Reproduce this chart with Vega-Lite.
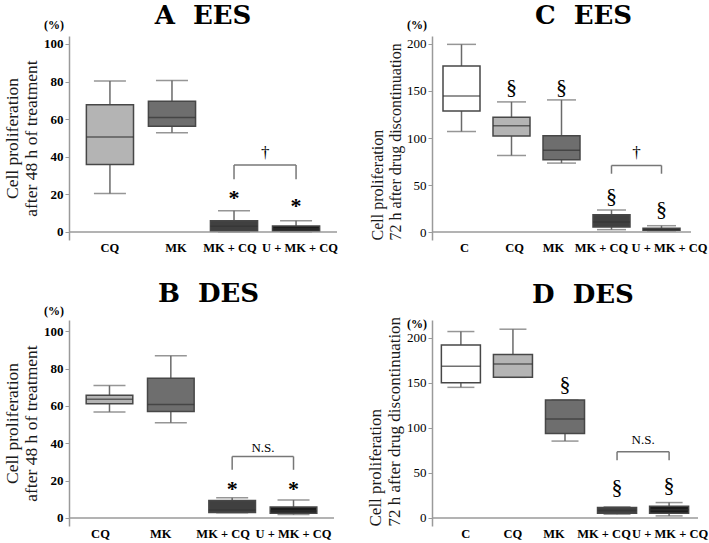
{
  "$schema": "https://vega.github.io/schema/vega-lite/v6.json",
  "padding": {"left": 3, "top": 3, "right": 2, "bottom": 0},
  "columns": 2,
  "spacing": {"row": 26, "column": 28},
  "align": "each",
  "config": {
    "view": {"stroke": null},
    "font": "Liberation Serif",
    "title": {"font": "DejaVu Serif", "fontSize": 26, "fontWeight": "bold", "color": "#000000"},
    "axis": {"domainColor": "#9a9a9a", "tickColor": "#9a9a9a", "labelColor": "#000000", "titleColor": "#1a1a1a", "labelFont": "Liberation Serif", "titleFont": "Liberation Serif", "grid": false},
    "axisX": {"domain": false, "ticks": false, "labelAngle": 0, "labelFont": "Liberation Serif", "labelFontWeight": "bold", "labelFontSize": 12.5, "labelPadding": 1, "labelOverlap": false},
    "axisY": {"tickSize": 4, "labelFont": "Liberation Serif", "titleFont": "Liberation Serif", "labelFontSize": 13, "labelPadding": 2, "titleFontWeight": "normal", "titlePadding": 3, "domainWidth": 1.5, "tickWidth": 1},
    "text": {"font": "Liberation Serif", "color": "#000000"}
  },
  "datasets": {
    "A": [
      {"group": "CQ", "min": 20.4, "q1": 35.8, "median": 50.5, "q3": 67.7, "max": 80.3},
      {"group": "MK", "min": 52.8, "q1": 56.2, "median": 60.8, "q3": 69.5, "max": 80.5},
      {"group": "MK + CQ", "min": 0, "q1": 0.4, "median": 3, "q3": 6, "max": 11.3},
      {"group": "U + MK + CQ", "min": 0, "q1": 0.3, "median": 1.6, "q3": 3.2, "max": 6}
    ],
    "B": [
      {"group": "CQ", "min": 56.8, "q1": 61.1, "median": 63.6, "q3": 65.7, "max": 70.9},
      {"group": "MK", "min": 51, "q1": 57, "median": 60.7, "q3": 74.8, "max": 86.9},
      {"group": "MK + CQ", "min": 2.8, "q1": 2.9, "median": 4.3, "q3": 9.4, "max": 10.8},
      {"group": "U + MK + CQ", "min": 1.8, "q1": 2.5, "median": 3.7, "q3": 5.9, "max": 9.6}
    ],
    "C": [
      {"group": "C", "min": 106.9, "q1": 128.8, "median": 144.8, "q3": 176.6, "max": 199.6},
      {"group": "CQ", "min": 81.4, "q1": 102, "median": 113, "q3": 122, "max": 138.4},
      {"group": "MK", "min": 73.3, "q1": 76.8, "median": 87, "q3": 102.3, "max": 140.5},
      {"group": "MK + CQ", "min": 2.5, "q1": 5.3, "median": 10.6, "q3": 18.4, "max": 23.4},
      {"group": "U + MK + CQ", "min": 1, "q1": 1.8, "median": 2.8, "q3": 3.9, "max": 6.7}
    ],
    "D": [
      {"group": "C", "min": 144.8, "q1": 150, "median": 168.1, "q3": 191.9, "max": 206.7},
      {"group": "CQ", "min": 155.9, "q1": 155.9, "median": 170.7, "q3": 181.1, "max": 209.3},
      {"group": "MK", "min": 85.2, "q1": 93.7, "median": 109.6, "q3": 130.7, "max": 130.7},
      {"group": "MK + CQ", "min": 4.1, "q1": 5.2, "median": 8.1, "q3": 11.5, "max": 12.2},
      {"group": "U + MK + CQ", "min": 2.2, "q1": 5.2, "median": 8.9, "q3": 13, "max": 17}
    ]
  },
  "concat": [
    {
      "width": 268, "height": 204,
      "title": {"text": "A\u00a0\u00a0EES", "dx": 0, "offset": -10},
      "layer": [
        {"data": {"name": "A"}, "mark": {"type": "rule", "color": "#6a6a6a", "strokeWidth": 1.5},
          "encoding": {
            "x": {"field": "group", "type": "nominal", "scale": {"domain": ["CQ", "MK", "MK + CQ", "U + MK + CQ"], "paddingInner": 0.24, "paddingOuter": 0.28},
              "axis": {"title": null, "labelOffset": {"condition": [{"test": "datum.value === 'MK'", "value": 4}, {"test": "datum.value === 'MK + CQ'", "value": -4}, {"test": "datum.value === 'U + MK + CQ'", "value": 4}], "value": 0}}},
            "y": {"field": "min", "type": "quantitative", "scale": {"domain": [-4.3, 104.2], "nice": false, "zero": false}, "axis": {"title": ["Cell proliferation", "after 48 h of treatment"], "values": [0, 20, 40, 60, 80, 100], "labelFontWeight": "bold", "titleFontSize": 17.5}},
            "y2": {"field": "max"}}},
        {"data": {"name": "A"}, "mark": {"type": "tick", "color": "#6a6a6a", "size": 32, "thickness": 1.5},
          "encoding": {"x": {"field": "group", "type": "nominal"}, "y": {"field": "max", "type": "quantitative"}}},
        {"data": {"name": "A"}, "mark": {"type": "tick", "color": "#6a6a6a", "size": 32, "thickness": 1.5},
          "encoding": {"x": {"field": "group", "type": "nominal"}, "y": {"field": "min", "type": "quantitative"}}},
        {"data": {"name": "A"}, "mark": {"type": "bar", "stroke": "#474747", "strokeWidth": 1.5},
          "encoding": {"x": {"field": "group", "type": "nominal"}, "y": {"field": "q1", "type": "quantitative"}, "y2": {"field": "q3"},
            "fill": {"field": "group", "type": "nominal", "scale": {"domain": ["C", "CQ", "MK", "MK + CQ", "U + MK + CQ"], "range": ["#ffffff", "#b4b4b4", "#6e6e6e", "#404040", "#1c1c1c"]}, "legend": null}}},
        {"data": {"name": "A"}, "mark": {"type": "tick", "color": "#333333", "size": 47, "thickness": 1.5},
          "encoding": {"x": {"field": "group", "type": "nominal"}, "y": {"field": "median", "type": "quantitative"}}},
        {"data": {"values": [{"v": 0}]}, "mark": {"type": "rule", "color": "#9a9a9a", "strokeWidth": 1.5},
          "encoding": {"y": {"field": "v", "type": "quantitative"}}},
        {"data": {"values": [{"group": "MK + CQ", "top": 35.6, "bot": 28}, {"group": "U + MK + CQ", "top": 35.6, "bot": 28}]}, "mark": {"type": "rule", "color": "#777777", "strokeWidth": 1.5},
          "encoding": {"x": {"field": "group", "type": "nominal"}, "y": {"field": "bot", "type": "quantitative"}, "y2": {"field": "top"}}},
        {"data": {"values": [{"from": "MK + CQ", "to": "U + MK + CQ", "y": 35.6}]}, "mark": {"type": "rule", "color": "#777777", "strokeWidth": 1.5},
          "encoding": {"x": {"field": "from", "type": "nominal", "bandPosition": 0.5}, "x2": {"field": "to", "bandPosition": 0.5}, "y": {"field": "y", "type": "quantitative"}}},
        {"data": {"values": [{"group": "MK + CQ", "y": 18, "label": "*"}, {"group": "U + MK + CQ", "y": 14, "label": "*"}]}, "mark": {"type": "text", "fontSize": 22, "fontWeight": "bold"},
          "encoding": {"x": {"field": "group", "type": "nominal"}, "y": {"field": "y", "type": "quantitative"}, "text": {"field": "label"}}},
        {"data": {"values": [{"group": "MK + CQ", "y": 42, "label": "†"}]}, "mark": {"type": "text", "fontSize": 17},
          "encoding": {"x": {"field": "group", "type": "nominal", "bandPosition": 1.16}, "y": {"field": "y", "type": "quantitative"}, "text": {"field": "label"}}},
        {"data": {"values": [{"label": "(%)", "y": 110}]}, "mark": {"type": "text", "fontSize": 12, "fontWeight": "bold", "dx": -15},
          "encoding": {"x": {"value": 0}, "y": {"field": "y", "type": "quantitative"}, "text": {"field": "label"}}}
      ]
    },
    {
      "width": 259, "height": 204,
      "title": {"text": "C\u00a0\u00a0EES", "dx": 22, "offset": -10},
      "layer": [
        {"data": {"name": "C"}, "mark": {"type": "rule", "color": "#6a6a6a", "strokeWidth": 1.5},
          "encoding": {
            "x": {"field": "group", "type": "nominal", "scale": {"domain": ["C", "CQ", "MK", "MK + CQ", "U + MK + CQ"], "paddingInner": 0.26, "paddingOuter": 0.22},
              "axis": {"title": null, "labelOffset": {"condition": [{"test": "datum.value === 'C'", "value": 3}, {"test": "datum.value === 'CQ'", "value": 3}, {"test": "datum.value === 'MK'", "value": -8}, {"test": "datum.value === 'MK + CQ'", "value": -10}, {"test": "datum.value === 'U + MK + CQ'", "value": 8}], "value": 0}}},
            "y": {"field": "min", "type": "quantitative", "scale": {"domain": [-8.5, 208.5], "nice": false, "zero": false}, "axis": {"title": ["Cell proliferation", "72 h after drug discontinuation"], "values": [0, 50, 100, 150, 200], "labelFontWeight": "normal", "titleFontSize": 16, "titleAnchor": "start"}},
            "y2": {"field": "max"}}},
        {"data": {"name": "C"}, "mark": {"type": "tick", "color": "#6a6a6a", "size": 29, "thickness": 1.5},
          "encoding": {"x": {"field": "group", "type": "nominal"}, "y": {"field": "max", "type": "quantitative"}}},
        {"data": {"name": "C"}, "mark": {"type": "tick", "color": "#6a6a6a", "size": 29, "thickness": 1.5},
          "encoding": {"x": {"field": "group", "type": "nominal"}, "y": {"field": "min", "type": "quantitative"}}},
        {"data": {"name": "C"}, "mark": {"type": "bar", "stroke": "#474747", "strokeWidth": 1.5},
          "encoding": {"x": {"field": "group", "type": "nominal"}, "y": {"field": "q1", "type": "quantitative"}, "y2": {"field": "q3"},
            "fill": {"field": "group", "type": "nominal", "scale": {"domain": ["C", "CQ", "MK", "MK + CQ", "U + MK + CQ"], "range": ["#ffffff", "#b4b4b4", "#6e6e6e", "#404040", "#1c1c1c"]}, "legend": null}}},
        {"data": {"name": "C"}, "mark": {"type": "tick", "color": "#333333", "size": 37, "thickness": 1.5},
          "encoding": {"x": {"field": "group", "type": "nominal"}, "y": {"field": "median", "type": "quantitative"}}},
        {"data": {"values": [{"v": 0}]}, "mark": {"type": "rule", "color": "#9a9a9a", "strokeWidth": 1.5},
          "encoding": {"y": {"field": "v", "type": "quantitative"}}},
        {"data": {"values": [{"group": "MK + CQ", "top": 70.8, "bot": 62}, {"group": "U + MK + CQ", "top": 70.8, "bot": 62}]}, "mark": {"type": "rule", "color": "#777777", "strokeWidth": 1.5},
          "encoding": {"x": {"field": "group", "type": "nominal"}, "y": {"field": "bot", "type": "quantitative"}, "y2": {"field": "top"}}},
        {"data": {"values": [{"from": "MK + CQ", "to": "U + MK + CQ", "y": 70.8}]}, "mark": {"type": "rule", "color": "#777777", "strokeWidth": 1.5},
          "encoding": {"x": {"field": "from", "type": "nominal", "bandPosition": 0.5}, "x2": {"field": "to", "bandPosition": 0.5}, "y": {"field": "y", "type": "quantitative"}}},
        {"data": {"values": [{"group": "CQ", "y": 154, "label": "§"}, {"group": "MK", "y": 154, "label": "§"}, {"group": "MK + CQ", "y": 38, "label": "§"}, {"group": "U + MK + CQ", "y": 24, "label": "§"}]}, "mark": {"type": "text", "fontSize": 22},
          "encoding": {"x": {"field": "group", "type": "nominal"}, "y": {"field": "y", "type": "quantitative"}, "text": {"field": "label"}}},
        {"data": {"values": [{"group": "MK + CQ", "y": 84, "label": "†"}]}, "mark": {"type": "text", "fontSize": 17},
          "encoding": {"x": {"field": "group", "type": "nominal", "bandPosition": 1.176}, "y": {"field": "y", "type": "quantitative"}, "text": {"field": "label"}}},
        {"data": {"values": [{"label": "(%)", "y": 220}]}, "mark": {"type": "text", "fontSize": 12, "fontWeight": "bold", "dx": -15},
          "encoding": {"x": {"value": 0}, "y": {"field": "y", "type": "quantitative"}, "text": {"field": "label"}}}
      ]
    },
    {
      "width": 265, "height": 206,
      "title": {"text": "B\u00a0\u00a0DES", "dx": 7, "offset": -2},
      "layer": [
        {"data": {"name": "B"}, "mark": {"type": "rule", "color": "#6a6a6a", "strokeWidth": 1.5},
          "encoding": {
            "x": {"field": "group", "type": "nominal", "scale": {"domain": ["CQ", "MK", "MK + CQ", "U + MK + CQ"], "paddingInner": 0.24, "paddingOuter": 0.28},
              "axis": {"title": null, "labelOffset": {"condition": [{"test": "datum.value === 'CQ'", "value": -9}, {"test": "datum.value === 'MK'", "value": -10}, {"test": "datum.value === 'MK + CQ'", "value": -9}], "value": 0}}},
            "y": {"field": "min", "type": "quantitative", "scale": {"domain": [-4.3, 106], "nice": false, "zero": false}, "axis": {"title": ["Cell proliferation", "after 48 h of treatment"], "values": [0, 20, 40, 60, 80, 100], "labelFontWeight": "bold", "titleFontSize": 17.5}},
            "y2": {"field": "max"}}},
        {"data": {"name": "B"}, "mark": {"type": "tick", "color": "#6a6a6a", "size": 32, "thickness": 1.5},
          "encoding": {"x": {"field": "group", "type": "nominal"}, "y": {"field": "max", "type": "quantitative"}}},
        {"data": {"name": "B"}, "mark": {"type": "tick", "color": "#6a6a6a", "size": 32, "thickness": 1.5},
          "encoding": {"x": {"field": "group", "type": "nominal"}, "y": {"field": "min", "type": "quantitative"}}},
        {"data": {"name": "B"}, "mark": {"type": "bar", "stroke": "#474747", "strokeWidth": 1.5},
          "encoding": {"x": {"field": "group", "type": "nominal"}, "y": {"field": "q1", "type": "quantitative"}, "y2": {"field": "q3"},
            "fill": {"field": "group", "type": "nominal", "scale": {"domain": ["C", "CQ", "MK", "MK + CQ", "U + MK + CQ"], "range": ["#ffffff", "#b4b4b4", "#6e6e6e", "#404040", "#1c1c1c"]}, "legend": null}}},
        {"data": {"name": "B"}, "mark": {"type": "tick", "color": "#333333", "size": 46.6, "thickness": 1.5},
          "encoding": {"x": {"field": "group", "type": "nominal"}, "y": {"field": "median", "type": "quantitative"}}},
        {"data": {"values": [{"v": 0}]}, "mark": {"type": "rule", "color": "#9a9a9a", "strokeWidth": 1.5},
          "encoding": {"y": {"field": "v", "type": "quantitative"}}},
        {"data": {"values": [{"group": "MK + CQ", "top": 32.9, "bot": 25.8}, {"group": "U + MK + CQ", "top": 32.9, "bot": 25.8}]}, "mark": {"type": "rule", "color": "#777777", "strokeWidth": 1.5},
          "encoding": {"x": {"field": "group", "type": "nominal"}, "y": {"field": "bot", "type": "quantitative"}, "y2": {"field": "top"}}},
        {"data": {"values": [{"from": "MK + CQ", "to": "U + MK + CQ", "y": 32.9}]}, "mark": {"type": "rule", "color": "#777777", "strokeWidth": 1.5},
          "encoding": {"x": {"field": "from", "type": "nominal", "bandPosition": 0.5}, "x2": {"field": "to", "bandPosition": 0.5}, "y": {"field": "y", "type": "quantitative"}}},
        {"data": {"values": [{"group": "MK + CQ", "y": 15.3, "label": "*"}, {"group": "U + MK + CQ", "y": 15.3, "label": "*"}]}, "mark": {"type": "text", "fontSize": 22, "fontWeight": "bold"},
          "encoding": {"x": {"field": "group", "type": "nominal"}, "y": {"field": "y", "type": "quantitative"}, "text": {"field": "label"}}},
        {"data": {"values": [{"group": "MK + CQ", "y": 37.5, "label": "N.S."}]}, "mark": {"type": "text", "fontSize": 13},
          "encoding": {"x": {"field": "group", "type": "nominal", "bandPosition": 1.16}, "y": {"field": "y", "type": "quantitative"}, "text": {"field": "label"}}},
        {"data": {"values": [{"label": "(%)", "y": 111}]}, "mark": {"type": "text", "fontSize": 12, "fontWeight": "bold", "dx": -15},
          "encoding": {"x": {"value": 0}, "y": {"field": "y", "type": "quantitative"}, "text": {"field": "label"}}}
      ]
    },
    {
      "width": 266, "height": 206,
      "title": {"text": "D\u00a0\u00a0DES", "dx": 18, "offset": 8},
      "layer": [
        {"data": {"name": "D"}, "mark": {"type": "rule", "color": "#6a6a6a", "strokeWidth": 1.5},
          "encoding": {
            "x": {"field": "group", "type": "nominal", "scale": {"domain": ["C", "CQ", "MK", "MK + CQ", "U + MK + CQ"], "paddingInner": 0.25, "paddingOuter": 0.18},
              "axis": {"title": null, "labelOffset": {"condition": [{"test": "datum.value === 'C'", "value": 5}, {"test": "datum.value === 'MK'", "value": -11}, {"test": "datum.value === 'MK + CQ'", "value": -13}, {"test": "datum.value === 'U + MK + CQ'", "value": 1}], "value": 0}}},
            "y": {"field": "min", "type": "quantitative", "scale": {"domain": [-9, 219.5], "nice": false, "zero": false}, "axis": {"title": ["Cell proliferation", "72 h after drug discontinuation"], "values": [0, 50, 100, 150, 200], "labelFontWeight": "normal", "titleFontSize": 17, "titleAnchor": "start"}},
            "y2": {"field": "max"}}},
        {"data": {"name": "D"}, "mark": {"type": "tick", "color": "#6a6a6a", "size": 27, "thickness": 1.5},
          "encoding": {"x": {"field": "group", "type": "nominal"}, "y": {"field": "max", "type": "quantitative"}}},
        {"data": {"name": "D"}, "mark": {"type": "tick", "color": "#6a6a6a", "size": 27, "thickness": 1.5},
          "encoding": {"x": {"field": "group", "type": "nominal"}, "y": {"field": "min", "type": "quantitative"}}},
        {"data": {"name": "D"}, "mark": {"type": "bar", "stroke": "#474747", "strokeWidth": 1.5},
          "encoding": {"x": {"field": "group", "type": "nominal"}, "y": {"field": "q1", "type": "quantitative"}, "y2": {"field": "q3"},
            "fill": {"field": "group", "type": "nominal", "scale": {"domain": ["C", "CQ", "MK", "MK + CQ", "U + MK + CQ"], "range": ["#ffffff", "#b4b4b4", "#6e6e6e", "#404040", "#1c1c1c"]}, "legend": null}}},
        {"data": {"name": "D"}, "mark": {"type": "tick", "color": "#333333", "size": 39, "thickness": 1.5},
          "encoding": {"x": {"field": "group", "type": "nominal"}, "y": {"field": "median", "type": "quantitative"}}},
        {"data": {"values": [{"v": 0}]}, "mark": {"type": "rule", "color": "#9a9a9a", "strokeWidth": 1.5},
          "encoding": {"y": {"field": "v", "type": "quantitative"}}},
        {"data": {"values": [{"group": "MK + CQ", "top": 73.3, "bot": 64}, {"group": "U + MK + CQ", "top": 73.3, "bot": 64}]}, "mark": {"type": "rule", "color": "#777777", "strokeWidth": 1.5},
          "encoding": {"x": {"field": "group", "type": "nominal"}, "y": {"field": "bot", "type": "quantitative"}, "y2": {"field": "top"}}},
        {"data": {"values": [{"from": "MK + CQ", "to": "U + MK + CQ", "y": 73.3}]}, "mark": {"type": "rule", "color": "#777777", "strokeWidth": 1.5},
          "encoding": {"x": {"field": "from", "type": "nominal", "bandPosition": 0.5}, "x2": {"field": "to", "bandPosition": 0.5}, "y": {"field": "y", "type": "quantitative"}}},
        {"data": {"values": [{"group": "MK", "y": 148, "label": "§"}, {"group": "MK + CQ", "y": 34, "label": "§"}, {"group": "U + MK + CQ", "y": 36, "label": "§"}]}, "mark": {"type": "text", "fontSize": 22},
          "encoding": {"x": {"field": "group", "type": "nominal"}, "y": {"field": "y", "type": "quantitative"}, "text": {"field": "label"}}},
        {"data": {"values": [{"group": "MK + CQ", "y": 86, "label": "N.S."}]}, "mark": {"type": "text", "fontSize": 13},
          "encoding": {"x": {"field": "group", "type": "nominal", "bandPosition": 1.167}, "y": {"field": "y", "type": "quantitative"}, "text": {"field": "label"}}},
        {"data": {"values": [{"label": "(%)", "y": 215}]}, "mark": {"type": "text", "fontSize": 12, "fontWeight": "bold", "dx": -15},
          "encoding": {"x": {"value": 0}, "y": {"field": "y", "type": "quantitative"}, "text": {"field": "label"}}}
      ]
    }
  ]
}
